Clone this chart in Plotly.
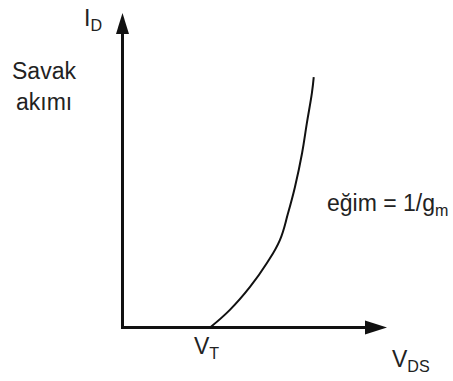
import plotly.graph_objects as go

# Drain current vs drain-source voltage (arbitrary units, axes span 0..10)
v_ds = [3.31, 4.06, 4.82, 5.46, 5.95, 6.26, 6.52, 6.79, 6.97, 7.16, 7.23]
i_d = [0.00, 0.56, 1.29, 2.05, 2.78, 3.64, 4.47, 5.55, 6.50, 7.45, 7.96]

axis_max = 10.0
ink = "#111111"
font_family = "Liberation Sans, Arial, sans-serif"

fig = go.Figure()

# axes drawn as thick lines from the origin
fig.add_trace(go.Scatter(x=[0, 0, axis_max - 0.5], y=[axis_max - 0.5, 0, 0],
                         mode="lines", line=dict(color=ink, width=3),
                         hoverinfo="skip", showlegend=False))

# the characteristic curve
fig.add_trace(go.Scatter(x=v_ds, y=i_d, mode="lines",
                         line=dict(color=ink, width=2, shape="spline", smoothing=1.2),
                         hoverinfo="skip", showlegend=False))

# arrowheads (pixel-sized paths anchored at axis tips)
fig.add_shape(type="path", xref="x", yref="y", xsizemode="pixel", ysizemode="pixel",
              xanchor=0, yanchor=axis_max,
              path="M 0 0 L -6.5 -21 L 6.5 -21 Z", fillcolor=ink, line=dict(width=0))
fig.add_shape(type="path", xref="x", yref="y", xsizemode="pixel", ysizemode="pixel",
              xanchor=axis_max, yanchor=0,
              path="M 0 0 L -22 7 L -22 -7 Z", fillcolor=ink, line=dict(width=0))

fs = 23
txt = dict(color="#222222", size=fs, family=font_family)
labels = [
    dict(x=-1.55, y=9.80, text="I<sub>D</sub>", xanchor="left"),
    dict(x=-2.95, y=8.16, text="Savak", xanchor="center"),
    dict(x=-2.95, y=7.17, text="akımı", xanchor="center"),
    dict(x=7.66, y=3.90, text="eğim = 1/g<sub>m</sub>", xanchor="left"),
    dict(x=2.63, y=-0.62, text="V<sub>T</sub>", xanchor="left"),
    dict(x=10.11, y=-1.05, text="V<sub>DS</sub>", xanchor="left"),
]
for lb in labels:
    fig.add_annotation(x=lb["x"], y=lb["y"], text=lb["text"], xanchor=lb["xanchor"],
                       yanchor="middle", showarrow=False, font=txt)

fig.update_layout(
    width=453, height=381,
    margin=dict(l=0, r=0, t=0, b=0),
    paper_bgcolor="white", plot_bgcolor="white",
    xaxis=dict(range=[-4.631, 12.495], visible=False, fixedrange=True),
    yaxis=dict(range=[-1.701, 10.413], visible=False, fixedrange=True),
)

fig.write_html("out.html")
